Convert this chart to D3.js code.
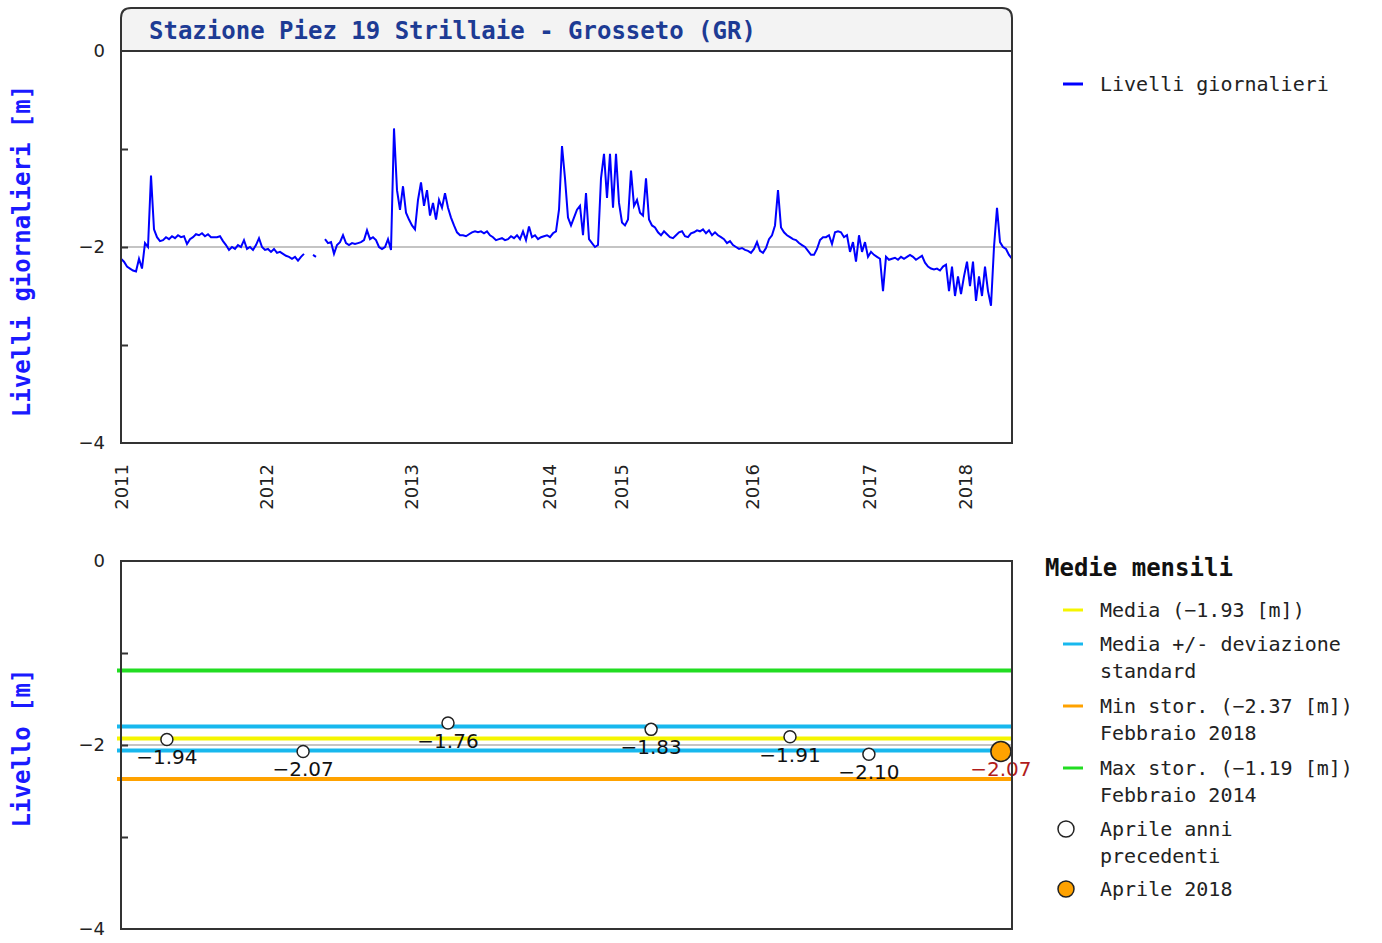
<!DOCTYPE html>
<html>
<head>
<meta charset="utf-8">
<script src="https://cdn.jsdelivr.net/npm/d3@7"></script>
<style>
  body { margin: 0; background: #fff; }
  svg { display: block; }
  .mono { font-family: "DejaVu Sans Mono", monospace; }
  .tick text { font-family: "DejaVu Sans", sans-serif; font-size: 18px; fill: #222; }
</style>
</head>
<body>
<svg width="1382" height="943"></svg>
<script>
// daily levels [m], one reading every sample step (null = missing)
var livelli = [
  // 2011
  -2.12, -2.15, -2.20, -2.22, -2.24, -2.25, -2.12, -2.22, -1.96, -2.00,
  -1.27, -1.82, -1.90, -1.94, -1.93, -1.90, -1.92, -1.89, -1.91, -1.88,
  -1.90, -1.89, -1.97, -1.92, -1.90, -1.87, -1.88, -1.86, -1.89, -1.87,
  -1.90, -1.90, -1.90, -1.89, -1.94, -1.98, -2.03, -2.00, -2.02, -1.98,
  -2.00, -1.93, -2.02, -2.00, -2.03, -1.98, -1.91, -2.00,
  // 2012
  -2.03, -2.02, -2.05, -2.02, -2.06, -2.05, -2.07, -2.09, -2.10, -2.12,
  -2.10, -2.14, -2.10, -2.07, null, null, -2.08, -2.10, null, null,
  -1.92, -1.96, -1.95, -2.07, -1.98, -1.95, -1.88, -1.96, -1.98, -1.96,
  -1.97, -1.96, -1.95, -1.93, -1.83, -1.92, -1.90, -1.93, -2.00, -2.02,
  -2.00, -1.92, -2.03,
  // 2013
  -0.79, -1.42, -1.62, -1.38, -1.65, -1.72, -1.78, -1.82, -1.52, -1.34,
  -1.58, -1.42, -1.68, -1.55, -1.72, -1.52, -1.60, -1.45, -1.60, -1.70,
  -1.78, -1.85, -1.88, -1.88, -1.89, -1.87, -1.85, -1.84, -1.85, -1.84,
  -1.86, -1.84, -1.88, -1.90, -1.93, -1.92, -1.91, -1.93, -1.92, -1.89,
  -1.91, -1.88, -1.92, -1.84, -1.93, -1.79, -1.90, -1.88, -1.92, -1.90,
  -1.89, -1.88,
  // 2014
  -1.90, -1.86, -1.84, -1.62, -0.97, -1.30, -1.70, -1.78, -1.70, -1.62,
  -1.58, -1.88, -1.45, -1.92, -1.96, -2.00, -1.98, -1.30, -1.05, -1.50,
  -1.05, -1.60, -1.05, -1.55,
  // 2015
  -1.75, -1.78, -1.72, -1.22, -1.58, -1.52, -1.65, -1.68, -1.30, -1.72,
  -1.78, -1.80, -1.85, -1.88, -1.84, -1.87, -1.90, -1.91, -1.88, -1.85,
  -1.84, -1.89, -1.90, -1.86, -1.85, -1.83, -1.84, -1.82, -1.86, -1.83,
  -1.88, -1.85, -1.88, -1.90, -1.92, -1.96, -1.94, -1.98, -2.00, -2.02,
  -2.01, -2.03, -2.04,
  // 2016
  -2.06, -2.02, -1.95, -2.04, -2.06, -2.01, -1.92, -1.88, -1.78, -1.42,
  -1.80, -1.85, -1.88, -1.90, -1.92, -1.93, -1.96, -1.98, -2.00, -2.04,
  -2.08, -2.08, -2.02, -1.93, -1.90, -1.90, -1.88, -1.97, -1.85, -1.84,
  -1.85, -1.90, -1.88, -2.05, -1.95, -2.15, -1.88, -2.05, -1.95,
  // 2017
  -2.10, -2.05, -2.08, -2.10, -2.12, -2.45, -2.10, -2.13, -2.12, -2.11,
  -2.13, -2.10, -2.12, -2.10, -2.08, -2.10, -2.13, -2.11, -2.09, -2.16,
  -2.20, -2.22, -2.23, -2.22, -2.24, -2.20, -2.18, -2.45, -2.20, -2.50,
  -2.30, -2.48,
  // 2018
  -2.30, -2.15, -2.40, -2.15, -2.55, -2.30, -2.50, -2.20, -2.45, -2.60,
  -2.00, -1.60, -1.95, -2.00, -2.02, -2.08, -2.12
];

// year labels and the sample index where each year begins
var anni = ["2011", "2012", "2013", "2014", "2015", "2016", "2017", "2018"];
var anniIdx = [0, 48.3, 96.7, 142.7, 166.7, 210.3, 249.3, 281.3];

// monthly means (April) of previous years and of 2018
var aprileIdx = [15.3, 60.7, 109, 176.7, 223, 249.3, 293.3];
var aprileVal = [-1.94, -2.07, -1.76, -1.83, -1.91, -2.10, -2.07];

// reference levels [m]
var media = -1.93;
var devStd = 0.13;
var minStor = -2.37;
var maxStor = -1.19;

var svg = d3.select("svg");
var x0 = 121, x1 = 1012;

var x = d3.scaleLinear().domain([0, livelli.length - 1]).range([x0, x1]);
var yTop = d3.scaleLinear().domain([0, -4]).range([51, 443]);
var yBot = d3.scaleLinear().domain([0, -4]).range([561, 929]);

var fmt = d3.format(".2f");
var fmtTick = d3.format("d");

// ---------- top chart ----------
var r = 10;
svg.append("path")
    .attr("d", "M" + x0 + ",51 V" + (8 + r) + " Q" + x0 + ",8 " + (x0 + r) + ",8 H" + (x1 - r) +
               " Q" + x1 + ",8 " + x1 + "," + (8 + r) + " V51 Z")
    .attr("fill", "#f3f3f3");

svg.append("text")
    .attr("class", "mono")
    .attr("x", 149).attr("y", 39)
    .attr("font-size", 24).attr("font-weight", "bold")
    .attr("fill", "#1d3b94")
    .text("Stazione Piez 19 Strillaie - Grosseto (GR)");

svg.append("line")
    .attr("x1", x0).attr("x2", x1)
    .attr("y1", yTop(-2)).attr("y2", yTop(-2))
    .attr("stroke", "#c4c4c4").attr("stroke-width", 2);

var line = d3.line()
    .defined(function(d) { return d !== null; })
    .x(function(d, i) { return x(i); })
    .y(function(d) { return yTop(d); });

svg.append("path")
    .datum(livelli)
    .attr("d", line)
    .attr("fill", "none")
    .attr("stroke", "#0000ff")
    .attr("stroke-width", 2);

// frame with rounded top corners
svg.append("line")
    .attr("x1", x0).attr("x2", x1).attr("y1", 51).attr("y2", 51)
    .attr("stroke", "#333").attr("stroke-width", 2);
svg.append("path")
    .attr("d", "M" + x0 + ",443 V" + (8 + r) + " Q" + x0 + ",8 " + (x0 + r) + ",8 H" + (x1 - r) +
               " Q" + x1 + ",8 " + x1 + "," + (8 + r) + " V443 Z")
    .attr("fill", "none").attr("stroke", "#333").attr("stroke-width", 2);

var yAxisTop = svg.append("g")
    .attr("transform", "translate(" + x0 + ",0)")
    .call(d3.axisLeft(yTop).tickValues([0, -2, -4]).tickFormat(fmtTick).tickSize(0).tickPadding(16));
yAxisTop.select(".domain").remove();
svg.append("g")
    .attr("transform", "translate(" + x0 + ",0)")
    .call(d3.axisRight(yTop).tickValues([-1, -2, -3]).tickSize(7).tickFormat(""))
    .call(function(g) { g.select(".domain").remove(); g.selectAll("line").attr("stroke", "#333").attr("stroke-width", 2); });

var xAxis = svg.append("g")
    .attr("transform", "translate(0,443)")
    .call(d3.axisBottom(x).tickValues(anniIdx).tickSize(0)
        .tickFormat(function(d, i) { return anni[i]; }));
xAxis.select(".domain").remove();
xAxis.selectAll("text")
    .attr("transform", "rotate(-90)")
    .attr("x", -21).attr("y", 0).attr("dy", "0.35em")
    .attr("text-anchor", "end");

svg.append("text")
    .attr("class", "mono")
    .attr("transform", "translate(30,251) rotate(-90)")
    .attr("text-anchor", "middle")
    .attr("font-size", 24).attr("font-weight", "bold")
    .attr("fill", "#1a1aff")
    .text("Livelli giornalieri [m]");

svg.append("line")
    .attr("x1", 1063).attr("x2", 1083).attr("y1", 84).attr("y2", 84)
    .attr("stroke", "#0000ff").attr("stroke-width", 3);
svg.append("text")
    .attr("class", "mono")
    .attr("x", 1100).attr("y", 91)
    .attr("font-size", 20).attr("fill", "#222")
    .text("Livelli giornalieri");

// ---------- bottom chart ----------
var livelliRif = [
    {v: maxStor, c: "#22dd22"},
    {v: media + devStd, c: "#18b8ee"},
    {v: media, c: "#f5f500"},
    {v: media - devStd, c: "#18b8ee"},
    {v: minStor, c: "#ffa200"}
];

svg.append("line")
    .attr("x1", x0).attr("x2", x1)
    .attr("y1", yBot(-2)).attr("y2", yBot(-2))
    .attr("stroke", "#c4c4c4").attr("stroke-width", 2);

svg.append("g").selectAll("line")
    .data(livelliRif)
  .enter().append("line")
    .attr("x1", x0 - 4).attr("x2", x1)
    .attr("y1", function(d) { return yBot(d.v); })
    .attr("y2", function(d) { return yBot(d.v); })
    .attr("stroke", function(d) { return d.c; })
    .attr("stroke-width", 4);

var punti = aprileVal.map(function(v, i) { return {idx: aprileIdx[i], v: v, last: i === aprileVal.length - 1}; });

var pt = svg.append("g").selectAll("g")
    .data(punti)
  .enter().append("g")
    .attr("transform", function(d) { return "translate(" + x(d.idx) + "," + yBot(d.v) + ")"; });

pt.append("text")
    .attr("text-anchor", "middle")
    .attr("y", 25)
    .attr("font-family", "DejaVu Sans, sans-serif")
    .attr("font-size", 20)
    .attr("fill", function(d) { return d.last ? "#b01c1c" : "#111"; })
    .text(function(d) { return fmt(d.v); });

pt.append("circle")
    .attr("r", function(d) { return d.last ? 10 : 6; })
    .attr("fill", function(d) { return d.last ? "#ffa200" : "#fff"; })
    .attr("stroke", "#222")
    .attr("stroke-width", 1.5);

svg.append("rect")
    .attr("x", x0).attr("y", 561)
    .attr("width", x1 - x0).attr("height", 929 - 561)
    .attr("fill", "none").attr("stroke", "#333").attr("stroke-width", 2);

var yAxisBot = svg.append("g")
    .attr("transform", "translate(" + x0 + ",0)")
    .call(d3.axisLeft(yBot).tickValues([0, -2, -4]).tickFormat(fmtTick).tickSize(0).tickPadding(16));
yAxisBot.select(".domain").remove();
svg.append("g")
    .attr("transform", "translate(" + x0 + ",0)")
    .call(d3.axisRight(yBot).tickValues([-1, -2, -3]).tickSize(7).tickFormat(""))
    .call(function(g) { g.select(".domain").remove(); g.selectAll("line").attr("stroke", "#333").attr("stroke-width", 2); });

svg.append("text")
    .attr("class", "mono")
    .attr("transform", "translate(30,748) rotate(-90)")
    .attr("text-anchor", "middle")
    .attr("font-size", 24).attr("font-weight", "bold")
    .attr("fill", "#1a1aff")
    .text("Livello [m]");

// legend
svg.append("text")
    .attr("class", "mono")
    .attr("x", 1045).attr("y", 576)
    .attr("font-size", 24).attr("font-weight", "bold").attr("fill", "#111")
    .text("Medie mensili");

var legenda = [
    {y: 610, c: "#f5f500", t: ["Media (" + fmt(media) + " [m])"]},
    {y: 644, c: "#18b8ee", t: ["Media +/- deviazione", "standard"]},
    {y: 706, c: "#ffa200", t: ["Min stor. (" + fmt(minStor) + " [m])", "Febbraio 2018"]},
    {y: 768, c: "#22dd22", t: ["Max stor. (" + fmt(maxStor) + " [m])", "Febbraio 2014"]},
    {y: 829, dot: "#fff", t: ["Aprile anni", "precedenti"]},
    {y: 889, dot: "#ffa200", t: ["Aprile 2018"]}
];

var li = svg.append("g").selectAll("g")
    .data(legenda)
  .enter().append("g")
    .attr("transform", function(d) { return "translate(0," + d.y + ")"; });

li.filter(function(d) { return d.c; }).append("line")
    .attr("x1", 1063).attr("x2", 1083)
    .attr("stroke", function(d) { return d.c; })
    .attr("stroke-width", 3);
li.filter(function(d) { return d.dot; }).append("circle")
    .attr("cx", 1066).attr("r", 8)
    .attr("fill", function(d) { return d.dot; })
    .attr("stroke", "#222").attr("stroke-width", 1.5);

li.append("text")
    .attr("class", "mono")
    .attr("font-size", 20).attr("fill", "#222")
    .selectAll("tspan")
    .data(function(d) { return d.t; })
  .enter().append("tspan")
    .attr("x", 1100)
    .attr("y", function(d, i) { return 7 + i * 27; })
    .text(function(d) { return d.replace(/-/g, "\u2212").replace("+/\u2212", "+/-"); });
</script>
</body>
</html>
